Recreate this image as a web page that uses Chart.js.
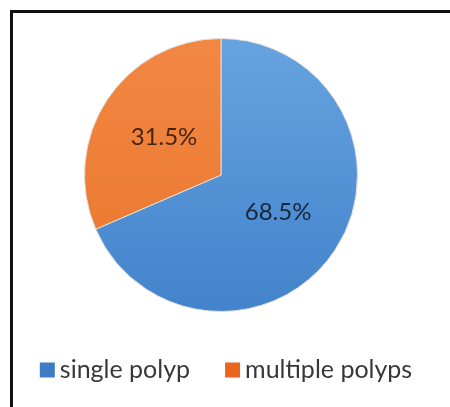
<!DOCTYPE html>
<html lang="en">
<head>
    <meta charset="UTF-8">
    <title>Polyps</title>
    <script src="https://cdn.jsdelivr.net/npm/chart.js@4.4.1/dist/chart.umd.min.js"></script>
    <style>
        html, body {
            margin: 0;
            padding: 0;
            background: #fff;
        }
        .wrap {
            position: relative;
            width: 450px;
            height: 407px;
            overflow: hidden;
        }
        .frame {
            position: absolute;
            left: 10px;
            top: 10px;
            width: 500px;
            height: 500px;
            border-left: 3px solid #111;
            border-top: 3px solid #111;
        }
        canvas {
            position: absolute;
            left: 0;
            top: 0;
        }
    </style>
</head>
<body>
<div class="wrap">
    <div class="frame"></div>
    <canvas id="pie" width="450" height="407"></canvas>
</div>
<script>
    const categories = ['single polyp', 'multiple polyps'];
    const percentages = [68.5, 31.5];
    const colorsTop = ['#67a3e0', '#f28743'];
    const colorsBottom = ['#4283cb', '#e9762c'];
    const legendColors = ['#3f7cc4', '#e8661e'];

    // slice labels drawn at the middle of each slice
    const sliceLabels = {
        id: 'sliceLabels',
        afterDatasetsDraw(chart) {
            const ctx = chart.ctx;
            const meta = chart.getDatasetMeta(0);
            ctx.save();
            ctx.font = '24px Lato';
            ctx.fillStyle = 'rgba(0, 0, 0, 0.72)';
            ctx.textAlign = 'center';
            ctx.textBaseline = 'middle';
            meta.data.forEach((arc, i) => {
                const p = arc.tooltipPosition();
                ctx.fillText(percentages[i].toFixed(1) + '%', p.x, p.y);
            });
            ctx.restore();
        }
    };

    // legend row under the pie, Excel style (small square, short gap, wide spacing)
    const bottomLegend = {
        id: 'bottomLegend',
        afterDraw(chart) {
            const ctx = chart.ctx;
            const box = 15, gap = 5, spacing = 35;
            ctx.save();
            ctx.font = '25px Lato';
            const widths = categories.map(c => ctx.measureText(c).width);
            let total = 0;
            widths.forEach((w, i) => { total += box + gap + w + (i ? spacing : 0); });
            let x = chart.width / 2 + 1 - total / 2;
            const y = 370;
            categories.forEach((c, i) => {
                ctx.fillStyle = legendColors[i];
                ctx.fillRect(x, y - box / 2, box, box);
                ctx.fillStyle = '#383838';
                ctx.textAlign = 'left';
                ctx.textBaseline = 'middle';
                ctx.fillText(c, x + box + gap, y);
                x += box + gap + widths[i] + spacing;
            });
            ctx.restore();
        }
    };

    function sliceFill(context) {
        const chart = context.chart;
        const area = chart.chartArea;
        const i = context.dataIndex;
        if (!area) return colorsTop[i];
        const g = chart.ctx.createLinearGradient(0, area.top, 0, area.bottom);
        g.addColorStop(0, colorsTop[i]);
        g.addColorStop(1, colorsBottom[i]);
        return g;
    }

    new Chart(document.getElementById('pie'), {
        type: 'pie',
        data: {
            labels: categories,
            datasets: [{
                data: percentages,
                backgroundColor: sliceFill,
                borderColor: '#e6e0da',
                borderWidth: 1
            }]
        },
        options: {
            responsive: false,
            animation: false,
            layout: {
                padding: { top: 38, left: 84, right: 92, bottom: 95 }
            },
            plugins: {
                tooltip: { enabled: false },
                legend: { display: false }
            }
        },
        plugins: [sliceLabels, bottomLegend]
    });
</script>
</body>
</html>
